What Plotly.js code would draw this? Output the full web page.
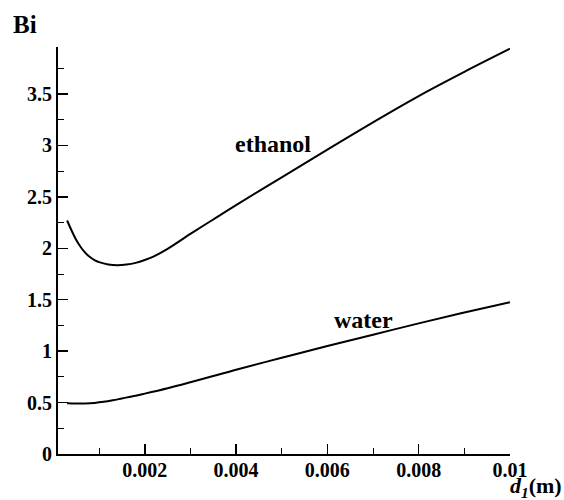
<!DOCTYPE html>
<html>
<head>
<meta charset="utf-8">
<script src="https://cdn.plot.ly/plotly-3.0.1.min.js"></script>
<style>html,body{margin:0;padding:0;background:#fff;}#chart{width:564px;height:500px;}</style>
</head>
<body>
<div id="chart"></div>
<script>
// Diameter d1 (m)
const ethanolX = [0.0003, 0.0004, 0.0005, 0.0006, 0.0007, 0.0008, 0.0009, 0.001, 0.0012, 0.0014, 0.0016, 0.0018, 0.002, 0.0022, 0.0025, 0.003, 0.0035, 0.004, 0.005, 0.006, 0.007, 0.008, 0.009, 0.01];
const ethanolBi = [2.27, 2.17, 2.08, 2.01, 1.955, 1.915, 1.885, 1.865, 1.843, 1.836, 1.842, 1.858, 1.886, 1.922, 1.995, 2.14, 2.28, 2.42, 2.69, 2.96, 3.225, 3.48, 3.715, 3.94];
const waterX = [0.0003, 0.0005, 0.0007, 0.0009, 0.0011, 0.0013, 0.0015, 0.0018, 0.002, 0.0025, 0.003, 0.0035, 0.004, 0.005, 0.006, 0.007, 0.008, 0.009, 0.01];
const waterBi = [0.494, 0.492, 0.492, 0.497, 0.507, 0.522, 0.54, 0.567, 0.587, 0.64, 0.698, 0.758, 0.82, 0.935, 1.05, 1.16, 1.27, 1.375, 1.475];
const xTickVals = [0.002, 0.004, 0.006, 0.008, 0.01];
const xTickText = ["0.002", "0.004", "0.006", "0.008", "0.01"];
const yTickVals = [0, 0.5, 1, 1.5, 2, 2.5, 3, 3.5];
const yTickText = ["0", "0.5", "1", "1.5", "2", "2.5", "3", "3.5"];
const seriesLabels = ["ethanol", "water"];

const font = "'Liberation Serif', 'Times New Roman', serif";

const traces = [
  {x: ethanolX, y: ethanolBi, mode: 'lines', name: seriesLabels[0], line: {color: '#000', width: 2, shape: 'spline', smoothing: 1}, hoverinfo: 'skip'},
  {x: waterX, y: waterBi, mode: 'lines', name: seriesLabels[1], line: {color: '#000', width: 2, shape: 'spline', smoothing: 1}, hoverinfo: 'skip'}
];

const layout = {
  width: 564, height: 500,
  margin: {l: 58, r: 54, t: 47, b: 46},
  paper_bgcolor: '#fff', plot_bgcolor: '#fff',
  showlegend: false,
  font: {family: font, color: '#000'},
  xaxis: {
    range: [0.0001, 0.01],
    tickmode: 'array', tickvals: xTickVals, ticktext: xTickText,
    ticks: 'inside', ticklen: 10, tickwidth: 1.5, tickcolor: '#000',
    ticklabelstandoff: -3,
    minor: {tick0: 0, dtick: 0.001, ticks: 'inside', ticklen: 6, tickwidth: 1, tickcolor: '#000'},
    showline: true, linecolor: '#000', linewidth: 2,
    showgrid: false, zeroline: false,
    tickfont: {family: font, size: 20, color: '#000', weight: 'bold'}
  },
  yaxis: {
    range: [0, 3.957],
    tickmode: 'array', tickvals: yTickVals, ticktext: yTickText,
    ticks: 'inside', ticklen: 10, tickwidth: 1.5, tickcolor: '#000',
    minor: {tick0: 0, dtick: 0.25, ticks: 'inside', ticklen: 6, tickwidth: 1, tickcolor: '#000'},
    showline: true, linecolor: '#000', linewidth: 2,
    showgrid: false, zeroline: false,
    tickfont: {family: font, size: 20, color: '#000', weight: 'bold'}
  },
  annotations: [
    {xref: 'x', yref: 'y', x: 0.00480, y: 3.01, text: '<b>' + seriesLabels[0] + '</b>', showarrow: false,
     font: {family: font, size: 24, color: '#000'}},
    {xref: 'x', yref: 'y', x: 0.00680, y: 1.30, text: '<b>' + seriesLabels[1] + '</b>', showarrow: false,
     font: {family: font, size: 24, color: '#000'}},
    {xref: 'paper', yref: 'paper', x: 0, y: 1, xanchor: 'left', yanchor: 'middle', xshift: -47, yshift: 23,
     text: '<b>Bi</b>', showarrow: false, font: {family: font, size: 25, color: '#000'}},
    {xref: 'paper', yref: 'paper', x: 1, y: 0, xanchor: 'right', yanchor: 'middle', xshift: 54, yshift: -33,
     text: '<b><i>d</i></b><sub><b><i>1</i></b></sub><b>(m)</b>', showarrow: false,
     font: {family: font, size: 22, color: '#000'}}
  ]
};

Plotly.newPlot('chart', traces, layout, {displayModeBar: false, staticPlot: true});
</script>
</body>
</html>
